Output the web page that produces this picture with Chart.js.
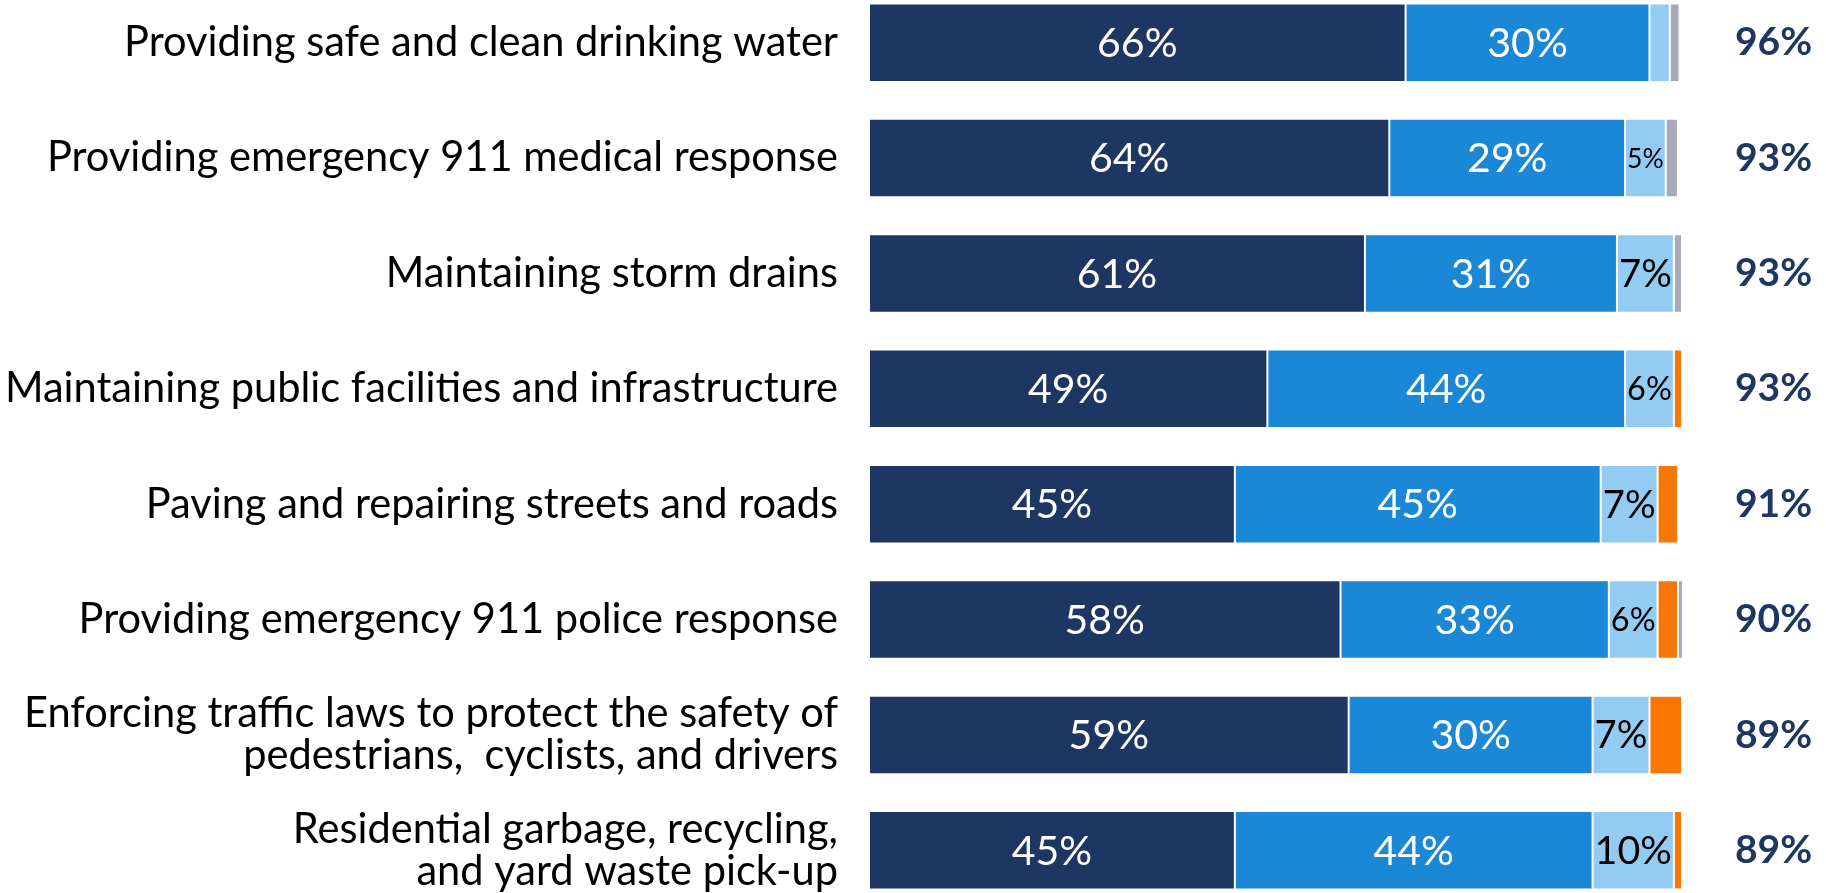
<!DOCTYPE html>
<html>
<head>
<meta charset="utf-8">
<script src="https://cdn.jsdelivr.net/npm/chart.js@4/dist/chart.umd.min.js"></script>
<style>
  html, body { margin: 0; padding: 0; background: #ffffff; overflow: hidden; }
  #wrap { position: absolute; left: 0; top: -15px; width: 1826px; height: 923px; }
</style>
</head>
<body>
<div id="wrap"><canvas id="chart"></canvas></div>
<script>
// City services: share of residents by satisfaction level
const categories = [
  'Providing safe and clean drinking water',
  'Providing emergency 911 medical response',
  'Maintaining storm drains',
  'Maintaining public facilities and infrastructure',
  'Paving and repairing streets and roads',
  'Providing emergency 911 police response',
  ['Enforcing traffic laws to protect the safety of', 'pedestrians,  cyclists, and drivers'],
  ['Residential garbage, recycling,', 'and yard waste pick-up']
];
const verySatisfied = [66, 64, 61, 49, 45, 58, 59, 45];
const somewhatSatisfied = [30, 29, 31, 44, 45, 33, 30, 44];
const somewhatDissatisfied = [2.5, 5, 7, 6, 7, 6, 7, 10];
const veryDissatisfied = [0, 0, 0, 1, 2.5, 2.5, 4, 1];
const dontKnow = [1.2, 1.5, 1, 0, 0, 1, 0, 0];
const totalSatisfied = ['96%', '93%', '93%', '93%', '91%', '90%', '89%', '89%'];

const FONT = 'Lato';
const LABEL_SIZE = 41;

function series(label, data, color, textColor) {
  return {
    label, data,
    backgroundColor: color,
    borderColor: 'rgba(255,255,255,0.3)',
    borderWidth: 1,
    borderSkipped: false,
    textColor,
    categoryPercentage: 1,
    barPercentage: 0.68
  };
}

// Writes each segment's value inside it, shrinking the text for narrow segments
const segmentLabels = {
  id: 'segmentLabels',
  afterDatasetsDraw(chart) {
    const ctx = chart.ctx;
    chart.data.datasets.forEach((ds, i) => {
      if (!ds.textColor) return;
      const meta = chart.getDatasetMeta(i);
      meta.data.forEach((bar, j) => {
        const v = ds.data[j];
        if (v < 5) return;
        const { x, y, base } = bar.getProps(['x', 'y', 'base'], true);
        const text = Math.round(v) + '%';
        const w = Math.abs(x - base);
        ctx.save();
        ctx.font = `400 ${LABEL_SIZE}px ${FONT}`;
        const tw = ctx.measureText(text).width;
        let size = LABEL_SIZE;
        if (tw > w - 4) size = LABEL_SIZE * (w - 4) / tw;
        ctx.font = `400 ${size}px ${FONT}`;
        ctx.fillStyle = ds.textColor;
        ctx.textAlign = 'center';
        ctx.textBaseline = 'middle';
        ctx.fillText(text, (x + base) / 2, y + 1);
        ctx.restore();
      });
    });
  }
};

// Fixed axis width, no extra room reserved above/below for tick labels
function fixedWidth(px) {
  return function (scale) {
    scale.width = px;
    scale.paddingTop = 0;
    scale.paddingBottom = 0;
  };
}

new Chart(document.getElementById('chart'), {
  type: 'bar',
  data: {
    labels: categories,
    datasets: [
      series('Very satisfied', verySatisfied, '#1e3762', '#ffffff'),
      series('Somewhat satisfied', somewhatSatisfied, '#1a88d6', '#ffffff'),
      series('Somewhat dissatisfied', somewhatDissatisfied, '#93cbf2', '#000000'),
      series('Very dissatisfied', veryDissatisfied, '#f97600', null),
      series("Don't know", dontKnow, '#a9a9b8', null)
    ]
  },
  options: {
    indexAxis: 'y',
    responsive: true,
    maintainAspectRatio: false,
    animation: false,
    layout: { padding: 0 },
    plugins: { legend: { display: false }, tooltip: { enabled: false } },
    scales: {
      x: {
        stacked: true, min: 0, max: 100, display: false
      },
      y: {
        stacked: true,
        position: 'left',
        border: { display: false },
        grid: { display: false, drawTicks: false },
        ticks: {
          padding: 31,
          color: '#000000',
          font: { family: FONT, size: 41.6, lineHeight: 1.01 }
        },
        afterFit: fixedWidth(869)
      },
      totals: {
        type: 'category',
        position: 'right',
        labels: totalSatisfied,
        offset: true,
        border: { display: false },
        grid: { display: false, drawTicks: false },
        ticks: {
          padding: 53,
          color: '#1e3762',
          font: { family: FONT, size: 39, weight: 'bold' }
        },
        afterFit: fixedWidth(144)
      }
    }
  },
  plugins: [segmentLabels]
});
</script>
</body>
</html>
